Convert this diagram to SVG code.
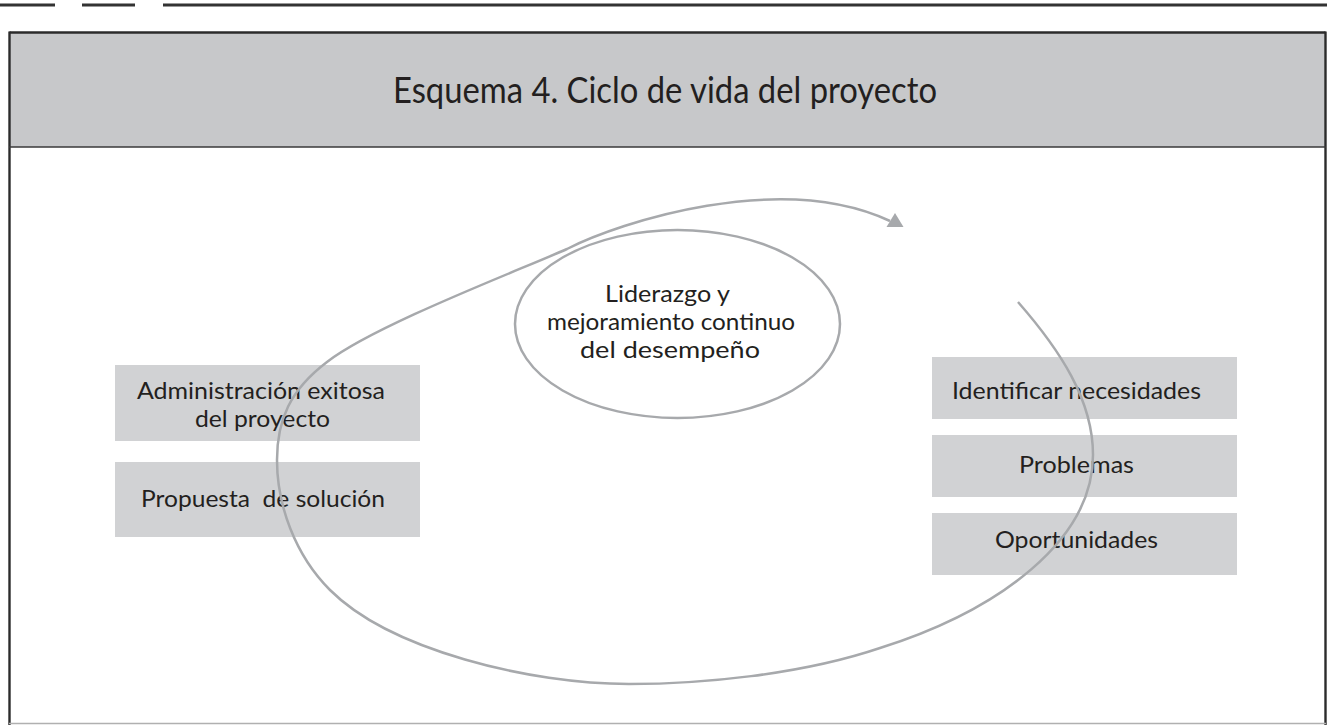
<svg xmlns="http://www.w3.org/2000/svg" width="1327" height="725" viewBox="0 0 1327 725">
<style>
.t{font-family:Lato,"Open Sans","Liberation Sans",sans-serif;fill:#231f20;white-space:pre}
.box{fill:#d1d2d4}
.cur{fill:none;stroke:#a7a9ac;stroke-width:2.5}
.frame{stroke:#2b2b2b;stroke-width:2.4;fill:none}
</style>
<rect x="0" y="0" width="1327" height="725" fill="#ffffff"/>
<g id="header">
<line x1="0" y1="5" x2="55" y2="5" stroke="#333" stroke-width="3"/>
<line x1="82" y1="5" x2="135" y2="5" stroke="#333" stroke-width="3"/>
<line x1="163" y1="5" x2="1327" y2="5" stroke="#333" stroke-width="3"/>
</g>
<g id="frame">
<rect x="10" y="33" width="1315" height="114" fill="#c7c8ca"/>
<line class="frame" x1="9.5" y1="32.5" x2="1325.5" y2="32.5"/>
<line class="frame" x1="9.5" y1="31.5" x2="9.5" y2="725"/>
<line class="frame" x1="1325.5" y1="31.5" x2="1325.5" y2="725"/>
<line x1="9" y1="147" x2="1326" y2="147" stroke="#3a3a3a" stroke-width="1.6"/>
<line x1="9" y1="723.5" x2="1326" y2="723.5" stroke="#b0b0b0" stroke-width="1.5"/>
<text class="t" x="393" y="103" font-size="36" textLength="544" lengthAdjust="spacingAndGlyphs">Esquema 4. Ciclo de vida del proyecto</text>
</g>
<g id="node-administracion">
<rect class="box" x="115" y="365" width="305" height="76"/>
<text class="t" x="137" y="399" font-size="23" textLength="248" lengthAdjust="spacingAndGlyphs">Administración exitosa</text>
<text class="t" x="195" y="427" font-size="23" textLength="135" lengthAdjust="spacingAndGlyphs">del proyecto</text>
</g>
<g id="node-propuesta">
<rect class="box" x="115" y="462" width="305" height="75"/>
<text class="t" x="141" y="507" font-size="23" textLength="244" lengthAdjust="spacingAndGlyphs">Propuesta  de solución</text>
</g>
<g id="node-identificar">
<rect class="box" x="932" y="357" width="305" height="62"/>
<text class="t" x="952" y="399" font-size="23" textLength="249" lengthAdjust="spacingAndGlyphs">Identificar necesidades</text>
</g>
<g id="node-problemas">
<rect class="box" x="932" y="435" width="305" height="62"/>
<text class="t" x="1019" y="473" font-size="23" textLength="115" lengthAdjust="spacingAndGlyphs">Problemas</text>
</g>
<g id="node-oportunidades">
<rect class="box" x="932" y="513" width="305" height="62"/>
<text class="t" x="995" y="548" font-size="23" textLength="163" lengthAdjust="spacingAndGlyphs">Oportunidades</text>
</g>
<g id="node-liderazgo">
<ellipse class="cur" cx="677.5" cy="324" rx="162.5" ry="94"/>
<text class="t" x="605" y="302" font-size="23" textLength="125" lengthAdjust="spacingAndGlyphs">Liderazgo y</text>
<text class="t" x="547" y="330" font-size="23" textLength="248" lengthAdjust="spacingAndGlyphs">mejoramiento continuo</text>
<text class="t" x="580" y="358" font-size="23" textLength="180" lengthAdjust="spacingAndGlyphs">del desempeño</text>
</g>
<g id="connectors">
<path class="cur" d="M1018,302 C1060,350 1093,400 1093,455 C1093,540 1000,610 880,648 C800,675 700,684 629,684 C530,684 390,650 330,590 C295,555 277,505 277,460 C277,420 290,390 327,362 C375,325 520,270 567,249 C620,222 780,170 890,221"/>
<polygon points="895,213 886.5,227 903.5,227" fill="#a7a9ac"/>
</g>
</svg>
